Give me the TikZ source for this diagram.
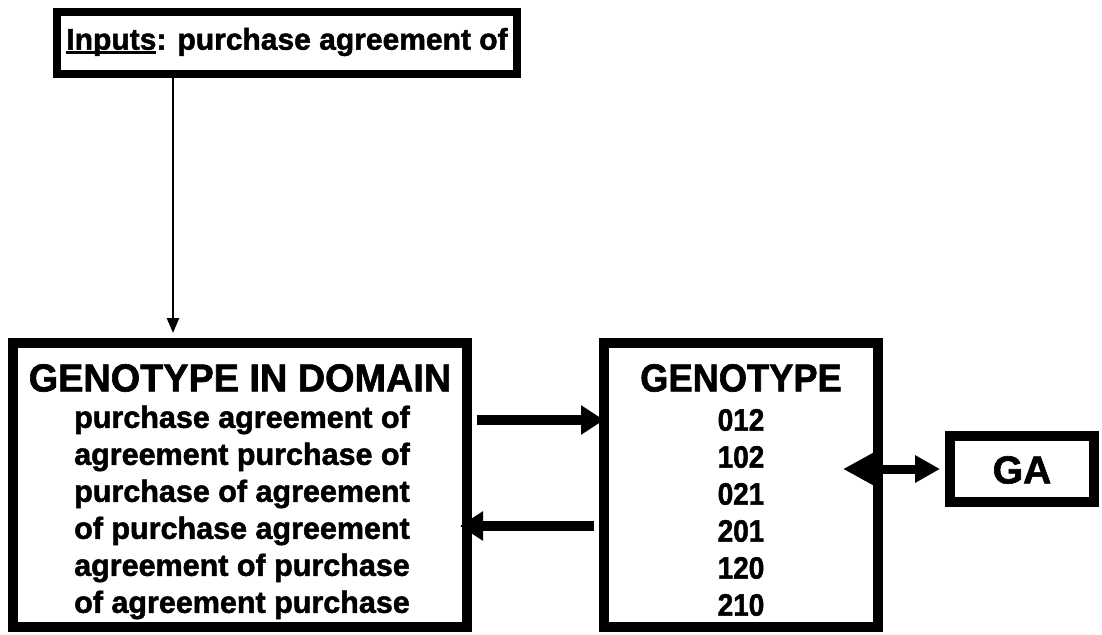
\documentclass[tikz,border=0pt]{standalone}
\usepackage{fontspec}
\setmainfont{Liberation Sans}[BoldFeatures={FakeBold=1.6}]
\usetikzlibrary{arrows.meta,calc}
% thick underline for the "Inputs" label
\newcommand\thickul[1]{\setbox0\hbox{#1}\rlap{\rule[-4pt]{\wd0}{2.8pt}}\box0}
\begin{document}
\begin{tikzpicture}[x=1pt,y=-1pt,
  frame/.style={draw=black,line width=10pt,fill=white,inner sep=0pt},
  thinframe/.style={draw=black,line width=8pt,fill=white,inner sep=0pt},
  head/.style={inner sep=0pt,font=\fontsize{39}{44}\selectfont\bfseries},
  entry/.style={inner sep=0pt,font=\fontsize{30.5}{36}\selectfont\bfseries},
  digit/.style={inner sep=0pt,font=\fontsize{31}{36}\selectfont\bfseries},
  fat/.style={line width=10pt,-{Triangle[length=23pt,width=28pt]}},
  link/.style={line width=9pt,{Triangle[length=30pt,width=30pt]}-{Triangle[length=25pt,width=26pt]}},
  feed/.style={line width=2.5pt,-{Triangle[length=15pt,width=12pt]}}]
\fill[white] (0,0) rectangle (1102,634);
\useasboundingbox (0,0) rectangle (1102,634);

% input box
\node[thinframe,minimum width=460pt,minimum height=62pt] (inp) at (287,43) {};
\node[inner sep=0pt,font=\fontsize{30}{34}\selectfont\bfseries] (inptext) at (287,42)
  {\thickul{Inputs}: purchase agreement of};

% genotype in domain
\node[frame,minimum width=454pt,minimum height=284pt] (dom) at (240,485) {};
\node[head] (domt) at (240,378) {\scalebox{0.97}[1]{GENOTYPE IN DOMAIN}};
\node[entry] (d1) at (242,420) {purchase agreement of};
\node[entry] (d2) at (242,457) {agreement purchase of};
\node[entry] (d3) at (242,494) {purchase of agreement};
\node[entry] (d4) at (242,531) {of purchase agreement};
\node[entry] (d5) at (242,568) {agreement of purchase};
\node[entry] (d6) at (242,605) {of agreement purchase};

% genotype
\node[frame,minimum width=274pt,minimum height=284pt] (gen) at (741,485) {};
\node[head] (gent) at (741,378) {\scalebox{0.93}[1]{GENOTYPE}};
\node[digit] (g1) at (741,420) {\scalebox{0.9}[1]{012}};
\node[digit] (g2) at (741,457) {\scalebox{0.9}[1]{102}};
\node[digit] (g3) at (741,494) {\scalebox{0.9}[1]{021}};
\node[digit] (g4) at (741,531) {\scalebox{0.9}[1]{201}};
\node[digit] (g5) at (741,568) {\scalebox{0.9}[1]{120}};
\node[digit] (g6) at (741,605) {\scalebox{0.9}[1]{210}};

% GA
\node[frame,minimum width=144pt,minimum height=66pt] (ga) at (1022,469) {};
\node[head] (gat) at (1022,470) {GA};

% connectors
\draw[feed] (inp.south -| 173,0) -- ([yshift=5pt]dom.north -| 173,0);
\draw[fat] ([xshift=5pt]dom.east |- d1) -- ([xshift=5pt]gen.west |- d1);
\draw[fat] ([xshift=-5pt,yshift=5pt]gen.west |- d4) -- ([xshift=-12pt,yshift=5pt]dom.east |- d4);
\draw[link] ([xshift=-40pt]gen.east |- ga) -- ([xshift=-5pt]ga.west);
\end{tikzpicture}
\end{document}
